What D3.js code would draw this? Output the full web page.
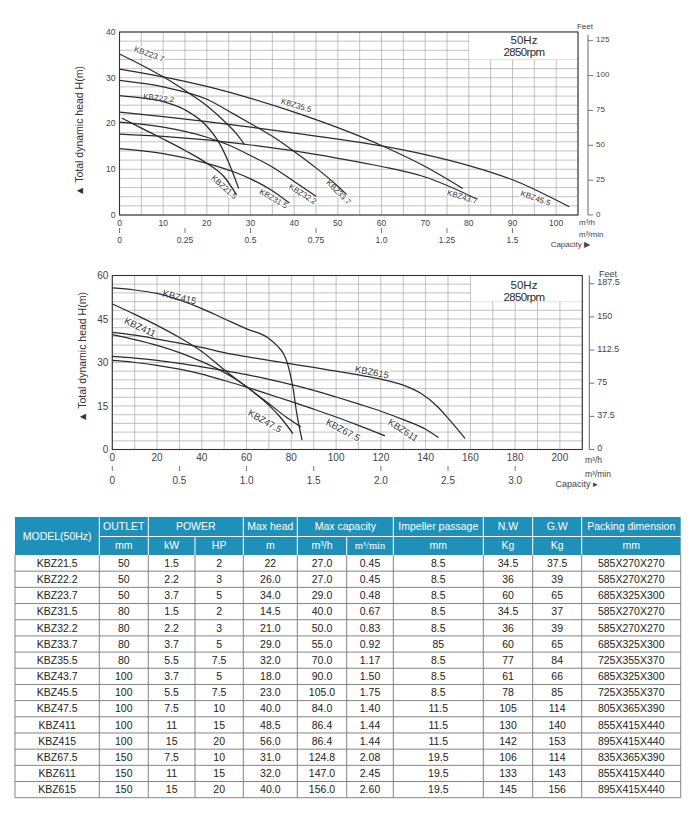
<!DOCTYPE html>
<html><head><meta charset="utf-8">
<script src="https://cdn.jsdelivr.net/npm/d3@7"></script>
<style>body{margin:0;background:#fff;} svg{display:block;font-family:"Liberation Sans",Arial,sans-serif;}</style>
</head><body><svg id="c" width="700" height="814"></svg>
<script>
// ---------- DATA: upper chart (m3/h, m) ----------
const kbz21_5 = [[0.5,21.2],[5,19],[10,16.6],[15,14.1],[20,11.3],[24,8.3],[26.8,4.4]];
const kbz22_2 = [[0,26.1],[5,25.6],[10,24.8],[15,23],[20,19.4],[23,15.5],[25,11.5],[27.3,5.8]];
const kbz23_7 = [[0,35.2],[5,32.8],[10,30.2],[15,27.2],[20,23.9],[24,20.5],[27,17.5],[28.6,15.4]];
const kbz31_5 = [[0,14.5],[10,13.4],[20,11.3],[26,9.5],[30,7.9],[35,5.3],[38.9,2.6]];
const kbz32_2 = [[0,20.3],[10,19.2],[20,17],[25,15.3],[30,13],[35,10.5],[40,7.3],[45,4.1]];
const kbz33_7 = [[0,29.4],[10,28],[20,25.3],[26.3,22],[30,20],[35,17.2],[40,13.9],[45,10.3],[50,6.3],[52,4.5]];
const kbz35_5 = [[0,31.9],[10,30.2],[20,28.1],[30,25.5],[40,22.5],[50,19.1],[60,15.2],[70,10.6],[78.6,5.8]];
const kbz43_7 = [[0,17.7],[10,17.2],[20,16.4],[30,15.3],[40,14],[50,12.4],[60,10.6],[70,8.3],[81.6,3.6]];
const kbz45_5 = [[0,22.5],[10,21.5],[20,20.4],[30,19.2],[40,17.9],[50,16.6],[60,15.1],[70,13.2],[80,10.8],[90,7.7],[103,1.8]];
const topNames = ["KBZ21.5","KBZ22.2","KBZ23.7","KBZ31.5","KBZ32.2","KBZ33.7","KBZ35.5","KBZ43.7","KBZ45.5"];
const topSeries = [kbz21_5,kbz22_2,kbz23_7,kbz31_5,kbz32_2,kbz33_7,kbz35_5,kbz43_7,kbz45_5];
const topFlowTicks = [0,10,20,30,40,50,60,70,80,90,100];
const topMinTicks = ["0","0.25","0.5","0.75","1.0","1.25","1.5"];
const topHeadTicks = [0,10,20,30,40];
const topFeetTicks = ["0","25","50","75","100","125"];

// ---------- DATA: lower chart ----------
const kbz47_5 = [[0,39.6],[10,37.9],[20,35.9],[30,33.4],[40,30.3],[50,26.6],[55,24.3],[60,21.6],[65,18.6],[70,15.2],[75,11.2],[80.7,5.5]];
const kbz411 = [[0,50.2],[10,46.6],[20,42.8],[30,38.6],[40,33.8],[50,27.5],[55,24.5],[60,21.6],[70,15.8],[78,11],[84.2,7.8]];
const kbz415 = [[0,55.7],[10,55],[20,53.8],[30,51.6],[40,48.6],[50,45.1],[60,41.6],[70,38.3],[74,35.5],[76.5,33],[78,30.3],[79.5,26],[80.8,21],[82.2,13.5],[84.8,3.2]];
const kbz67_5 = [[0,30.7],[10,30],[20,29],[30,27.7],[40,26],[50,23.8],[60,21.5],[70,19],[80,16.5],[90,13.9],[100,11.2],[110,8.3],[121.8,4.7]];
const kbz611 = [[0,32.1],[10,31.5],[20,30.7],[30,29.7],[40,28.5],[50,27.2],[60,25.8],[70,24.2],[80,22.4],[90,20.4],[100,18.1],[110,15.7],[120,13.2],[130,10.3],[140,7],[145.7,4.1]];
const kbz615 = [[0,40.4],[10,39.4],[20,38.1],[30,36.7],[40,35.2],[50,33.4],[60,32],[70,30.7],[80,29.5],[90,28.3],[100,27],[110,25.7],[120,24.3],[130,22.2],[138,19.3],[145,15],[150,10.8],[157.6,3.8]];
const botNames = ["KBZ47.5","KBZ411","KBZ415","KBZ67.5","KBZ611","KBZ615"];
const botSeries = [kbz47_5,kbz411,kbz415,kbz67_5,kbz611,kbz615];
const botFlowTicks = [0,20,40,60,80,100,120,140,160,180,200];
const botMinTicks = ["0","0.5","1.0","1.5","2.0","2.5","3.0"];
const botHeadTicks = [0,15,30,45,60];
const botFeetTicks = ["0","37.5","75","112.5","150","187.5"];

// ---------- DATA: table ----------
const tModels = ["KBZ21.5","KBZ22.2","KBZ23.7","KBZ31.5","KBZ32.2","KBZ33.7","KBZ35.5","KBZ43.7","KBZ45.5","KBZ47.5","KBZ411","KBZ415","KBZ67.5","KBZ611","KBZ615"];
const tOutlet = ["50","50","50","80","80","80","80","100","100","100","100","100","150","150","150"];
const tKW = ["1.5","2.2","3.7","1.5","2.2","3.7","5.5","3.7","5.5","7.5","11","15","7.5","11","15"];
const tHP = ["2","3","5","2","3","5","7.5","5","7.5","10","15","20","10","15","20"];
const tHead = ["22","26.0","34.0","14.5","21.0","29.0","32.0","18.0","23.0","40.0","48.5","56.0","31.0","32.0","40.0"];
const tCapH = ["27.0","27.0","29.0","40.0","50.0","55.0","70.0","90.0","105.0","84.0","86.4","86.4","124.8","147.0","156.0"];
const tCapM = ["0.45","0.45","0.48","0.67","0.83","0.92","1.17","1.50","1.75","1.40","1.44","1.44","2.08","2.45","2.60"];
const tImp = ["8.5","8.5","8.5","8.5","8.5","85","8.5","8.5","8.5","11.5","11.5","11.5","19.5","19.5","19.5"];
const tNW = ["34.5","36","60","34.5","36","60","77","61","78","105","130","142","106","133","145"];
const tGW = ["37.5","39","65","37","39","65","84","66","85","114","140","153","114","143","156"];
const tPack = ["585X270X270","585X270X270","685X325X300","585X270X270","585X270X270","685X325X300","725X355X370","685X325X300","725X355X370","805X365X390","855X415X440","895X415X440","835X365X390","855X415X440","895X415X440"];
const hdr1 = ["MODEL(50Hz)","OUTLET","POWER","Max head","Max capacity","Impeller passage","N.W","G.W","Packing dimension"];
const hdr2 = ["mm","kW","HP","m","m³/h","m³/min","mm","Kg","Kg","mm"];

// ---------- DRAW ----------
const svg = d3.select("#c");
const INK = "#2b2b2b";

function panel(o) {
  const g = svg.append("g");
  const x = d3.scaleLinear().domain([0, o.qMax]).range([o.left, o.right]);
  const y = d3.scaleLinear().domain([0, o.hMax]).range([o.bottom, o.top]);
  const xm = d3.scaleLinear().domain([0, o.qMax / 60]).range([o.left, o.right]);
  const yf = d3.scaleLinear().domain([0, o.hMax / 0.3048]).range([o.bottom, o.top]);
  // grid
  const grid = g.append("g").attr("stroke", "#a8a8a8").attr("stroke-width", 0.7);
  d3.range(0, o.qMax + 0.001, o.qStep).forEach(v => grid.append("line")
    .attr("x1", x(v)).attr("x2", x(v)).attr("y1", o.top).attr("y2", o.bottom));
  d3.range(0, o.hMax + 0.001, o.hStep).forEach(v => grid.append("line")
    .attr("x1", o.left).attr("x2", o.right).attr("y1", y(v)).attr("y2", y(v)));
  // blank box for speed note
  g.append("rect").attr("x", x(o.box[0]) + 0.5).attr("y", o.top)
    .attr("width", o.right - x(o.box[0]) - 0.5).attr("height", y(o.box[1]) - o.top).attr("fill", "#fff");
  g.append("text").attr("x", o.noteX).attr("y", o.top + o.noteDy).attr("text-anchor", "middle")
    .attr("font-size", 11.5).attr("fill", INK).text("50Hz");
  g.append("text").attr("x", o.noteX).attr("y", o.top + o.noteDy + 12).attr("text-anchor", "middle")
    .attr("font-size", 11.5).attr("letter-spacing", -0.6).attr("fill", INK).text("2850rpm");
  // labels on curves
  o.labels.forEach(l => {
    g.append("text").attr("transform", `translate(${x(l[1])},${y(l[2])}) rotate(${l[3]})`)
      .attr("text-anchor", "middle").attr("dy", "0.35em").attr("font-size", o.labelSize)
      .attr("fill", "#333").attr("stroke", "#fff").attr("stroke-width", 2.5)
      .attr("paint-order", "stroke").text(l[0]);
  });
  // curves
  const line = d3.line().x(d => x(d[0])).y(d => y(d[1])).curve(d3.curveMonotoneX);
  o.series.forEach(s => g.append("path").attr("d", line(s)).attr("fill", "none")
    .attr("stroke", INK).attr("stroke-width", 1.25));
  // frame
  g.append("rect").attr("x", o.left).attr("y", o.top).attr("width", o.right - o.left)
    .attr("height", o.bottom - o.top).attr("fill", "none").attr("stroke", "#333").attr("stroke-width", 1.1);
  // left axis labels
  o.headTicks.forEach(v => g.append("text").attr("x", o.left - 4).attr("y", y(v)).attr("dy", "0.35em")
    .attr("text-anchor", "end").attr("font-size", o.tickSize).attr("fill", "#444").text(v));
  // bottom m3/h labels
  o.flowTicks.forEach(v => g.append("text").attr("x", x(v)).attr("y", o.bottom + o.flowDy)
    .attr("text-anchor", "middle").attr("font-size", o.tickSize).attr("fill", "#444").text(v));
  // m3/min ticks
  o.minTicks.forEach(t => {
    const v = +t;
    g.append("line").attr("x1", xm(v)).attr("x2", xm(v)).attr("y1", o.minY).attr("y2", o.minY + 5)
      .attr("stroke", "#555").attr("stroke-width", 0.8);
    g.append("text").attr("x", xm(v)).attr("y", o.minY + o.minDy).attr("text-anchor", "middle")
      .attr("font-size", o.tickSize).attr("fill", "#444").text(t);
  });
  // feet axis
  g.append("line").attr("x1", o.feetX).attr("x2", o.feetX).attr("y1", o.top + o.feetTopPad).attr("y2", o.bottom)
    .attr("stroke", "#555").attr("stroke-width", 0.9);
  o.feetTicks.forEach(t => {
    const py = yf(+t);
    g.append("line").attr("x1", o.feetX).attr("x2", o.feetX + 5).attr("y1", py).attr("y2", py)
      .attr("stroke", "#555").attr("stroke-width", 0.8);
    g.append("text").attr("x", o.feetX + 8).attr("y", py - o.feetLift).attr("dy", "0.35em")
      .attr("font-size", o.feetSize).attr("fill", "#444").text(t);
  });
  g.append("text").attr("x", o.feetLabel[0]).attr("y", o.feetLabel[1]).attr("text-anchor", "middle")
    .attr("font-size", o.feetSize).attr("fill", "#444").text("Feet");
  // units
  g.append("text").attr("x", o.unitX).attr("y", o.unitY[0]).attr("font-size", o.unitSize)
    .attr("fill", "#444").text("m³/h");
  g.append("text").attr("x", o.unitX).attr("y", o.unitY[1]).attr("font-size", o.unitSize)
    .attr("fill", "#444").text("m³/min");
  g.append("text").attr("x", o.capX).attr("y", o.capY).attr("text-anchor", "end")
    .attr("font-size", o.feetSize).attr("fill", "#444").text("Capacity " + o.capArrow);
  // y title
  g.append("text").attr("transform", `translate(${o.titleX},${o.titleY}) rotate(-90)`)
    .attr("text-anchor", "middle").attr("dy", "0.35em").attr("font-size", 10.5).attr("fill", "#333")
    .text("▲  Total dynamic head H(m)");
}

panel({
  left: 119.5, right: 578, top: 32, bottom: 215, qMax: 105, hMax: 40, qStep: 5, hStep: 2,
  box: [80, 34], noteX: 524, noteDy: 12,
  series: topSeries,
  labels: [
    [topNames[2], 6.8, 35.2, 20], [topNames[1], 9, 25.6, 6], [topNames[6], 40.5, 24, 16],
    [topNames[0], 24, 6.1, 42], [topNames[3], 35.3, 3.6, 30], [topNames[4], 42, 4.6, 32],
    [topNames[5], 50.2, 5, 45], [topNames[7], 78.5, 4, 16], [topNames[8], 95.3, 3.7, 20]
  ],
  labelSize: 8, tickSize: 8.5, flowTicks: topFlowTicks, flowDy: 11,
  minTicks: topMinTicks, minY: 228, minDy: 15, headTicks: topHeadTicks,
  feetX: 588, feetTopPad: 3, feetTicks: topFeetTicks, feetSize: 8, feetLift: 1, feetLabel: [585, 29],
  unitX: 579, unitY: [225, 236.5], unitSize: 8, capX: 590, capY: 247, capArrow: "▶", titleX: 79, titleY: 131
});

panel({
  left: 112.3, right: 582.3, top: 275.5, bottom: 449.5, qMax: 210, hMax: 60, qStep: 10, hStep: 3,
  box: [160, 51], noteX: 524, noteDy: 13,
  series: botSeries,
  labels: [
    [botNames[2], 30, 52.5, 14], [botNames[1], 12.4, 42.2, 25], [botNames[0], 68.2, 9.8, 30],
    [botNames[3], 103.1, 6.7, 28], [botNames[5], 116, 26.7, 11], [botNames[4], 130, 6.7, 33]
  ],
  labelSize: 9.5, tickSize: 10, flowTicks: botFlowTicks, flowDy: 11,
  minTicks: botMinTicks, minY: 466, minDy: 18, headTicks: botHeadTicks,
  feetX: 589.3, feetTopPad: 0, feetTicks: botFeetTicks, feetSize: 9, feetLift: 1.5, feetLabel: [608, 277],
  unitX: 585, unitY: [462.5, 477], unitSize: 8.5, capX: 598, capY: 487, capArrow: "▸", titleX: 82, titleY: 357
});

// ---------- TABLE ----------
const colX = [15, 99.3, 148.3, 195, 243.3, 297.3, 346.7, 393.3, 483.3, 532.7, 581.7, 680.7];
const hTop = 517, hMid = 536.5, hBot = 555, rowH = 16.18;
const TEAL = "#1f90b9";
const tg = svg.append("g").attr("font-size", 10.5);
tg.append("rect").attr("x", colX[0]).attr("y", hTop).attr("width", colX[11] - colX[0])
  .attr("height", hBot - hTop).attr("fill", TEAL);
// header separators (white)
const wsep = tg.append("g").attr("stroke", "#fff").attr("stroke-width", 1);
[1, 2, 4, 5, 7, 8, 9, 10].forEach(i => wsep.append("line").attr("x1", colX[i]).attr("x2", colX[i]).attr("y1", hTop).attr("y2", hBot));
[3, 6].forEach(i => wsep.append("line").attr("x1", colX[i]).attr("x2", colX[i]).attr("y1", hMid).attr("y2", hBot));
wsep.append("line").attr("x1", colX[1]).attr("x2", colX[11]).attr("y1", hMid).attr("y2", hMid);
// header row 1 spans
const spans = [[0, 1, true], [1, 2], [2, 4], [4, 5], [5, 7], [7, 8], [8, 9], [9, 10], [10, 11]];
hdr1.forEach((t, i) => {
  const s = spans[i];
  const cx = (colX[s[0]] + colX[s[1]]) / 2;
  const cy = s[2] ? (hTop + hBot) / 2 : (hTop + hMid) / 2;
  tg.append("text").attr("x", cx).attr("y", cy).attr("dy", "0.35em").attr("text-anchor", "middle")
    .attr("fill", "#fff").text(t);
});
hdr2.forEach((t, i) => {
  const cx = (colX[i + 1] + colX[i + 2]) / 2;
  tg.append("text").attr("x", cx).attr("y", (hMid + hBot) / 2).attr("dy", "0.35em").attr("text-anchor", "middle")
    .attr("fill", "#fff").attr("font-family", t === "m³/min" ? "Liberation Serif, serif" : null).text(t);
});
// body
const cols = [tModels, tOutlet, tKW, tHP, tHead, tCapH, tCapM, tImp, tNW, tGW, tPack];
const bsep = tg.append("g").attr("stroke", "#777").attr("stroke-width", 0.9);
tModels.forEach((m, r) => {
  const y0 = hBot + r * rowH;
  bsep.append("line").attr("x1", colX[0]).attr("x2", colX[11]).attr("y1", y0 + rowH).attr("y2", y0 + rowH);
  cols.forEach((c, i) => {
    tg.append("text").attr("x", (colX[i] + colX[i + 1]) / 2).attr("y", y0 + rowH / 2).attr("dy", "0.36em")
      .attr("text-anchor", "middle").attr("fill", "#222").text(c[r]);
  });
});
const bodyBot = hBot + tModels.length * rowH;
colX.forEach(xv => bsep.append("line").attr("x1", xv).attr("x2", xv).attr("y1", hBot).attr("y2", bodyBot));
</script></body></html>
